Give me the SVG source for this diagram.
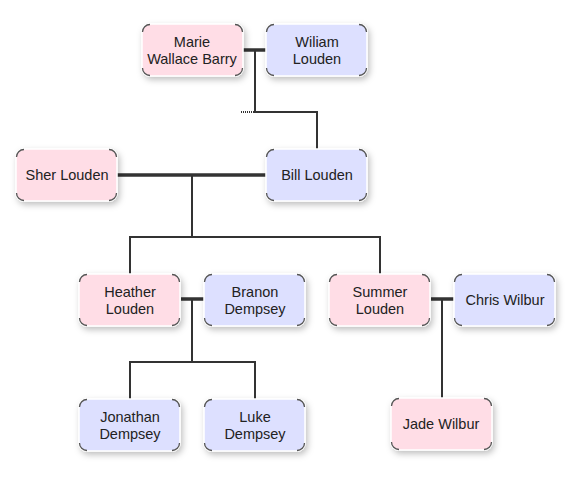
<svg xmlns="http://www.w3.org/2000/svg" width="572" height="496" viewBox="0 0 572 496">
<defs>
<filter id="sh" x="-20%" y="-20%" width="150%" height="160%">
<feDropShadow dx="2" dy="3" stdDeviation="3" flood-color="#000" flood-opacity="0.25"/>
</filter>
<path id="cm" d="M0.5,8 A7.5,7.5 0 0 1 8,0.5 M93,0.5 A7.5,7.5 0 0 1 100.5,8 M100.5,44 A7.5,7.5 0 0 1 93,51.5 M8,51.5 A7.5,7.5 0 0 1 0.5,44" fill="none" stroke="#555" stroke-width="1.3"/>
</defs>
<style>
.box{stroke:#fff;stroke-width:1.5;filter:url(#sh)}
.f{fill:#ffdde6}
.m{fill:#dde0ff}
.t{font-family:"Liberation Sans",Arial,sans-serif;font-size:14.5px;fill:#222;text-anchor:middle}
.c{fill:none;stroke:#333;stroke-width:2}
.c3{fill:none;stroke:#333;stroke-width:3.5}
</style>
<rect width="572" height="496" fill="#fff"/>
<g id="connectors">
<line class="c3" x1="242" y1="50" x2="266" y2="50"/>
<polyline class="c" points="255,50 255,112 317,112 317,150"/>
<line x1="241" y1="112" x2="255" y2="112" stroke="#333" stroke-width="2" stroke-dasharray="1 1"/>
<line class="c3" x1="117" y1="175" x2="266" y2="175"/>
<polyline class="c" points="192,175 192,237"/>
<polyline class="c" points="130,275 130,237 380,237 380,275"/>
<line class="c3" x1="181" y1="299" x2="204" y2="299"/>
<polyline class="c" points="192,299 192,362"/>
<polyline class="c" points="130,400 130,362 255,362 255,400"/>
<line class="c3" x1="431" y1="299" x2="454" y2="299"/>
<polyline class="c" points="442,299 442,398"/>
</g>
<g id="marie"><rect class="box f" x="142" y="24" width="101" height="52" rx="8"/><use href="#cm" x="142" y="24"/><text class="t" x="192" y="47">Marie</text><text class="t" x="192" y="64">Wallace Barry</text></g>
<g id="william"><rect class="box m" x="266" y="24" width="101" height="52" rx="8"/><use href="#cm" x="266" y="24"/><text class="t" x="317" y="47">Wiliam</text><text class="t" x="317" y="64">Louden</text></g>
<g id="sher"><rect class="box f" x="16" y="149" width="101" height="52" rx="8"/><use href="#cm" x="16" y="149"/><text class="t" x="67" y="180">Sher Louden</text></g>
<g id="bill"><rect class="box m" x="266" y="149" width="101" height="52" rx="8"/><use href="#cm" x="266" y="149"/><text class="t" x="317" y="180">Bill Louden</text></g>
<g id="heather"><rect class="box f" x="79" y="274" width="101" height="52" rx="8"/><use href="#cm" x="79" y="274"/><text class="t" x="130" y="297">Heather</text><text class="t" x="130" y="314">Louden</text></g>
<g id="branon"><rect class="box m" x="204" y="274" width="101" height="52" rx="8"/><use href="#cm" x="204" y="274"/><text class="t" x="255" y="297">Branon</text><text class="t" x="255" y="314">Dempsey</text></g>
<g id="summer"><rect class="box f" x="329" y="274" width="101" height="52" rx="8"/><use href="#cm" x="329" y="274"/><text class="t" x="380" y="297">Summer</text><text class="t" x="380" y="314">Louden</text></g>
<g id="chris"><rect class="box m" x="454" y="274" width="101" height="52" rx="8"/><use href="#cm" x="454" y="274"/><text class="t" x="505" y="305">Chris Wilbur</text></g>
<g id="jonathan"><rect class="box m" x="79" y="399" width="101" height="52" rx="8"/><use href="#cm" x="79" y="399"/><text class="t" x="130" y="422">Jonathan</text><text class="t" x="130" y="439">Dempsey</text></g>
<g id="luke"><rect class="box m" x="204" y="399" width="101" height="52" rx="8"/><use href="#cm" x="204" y="399"/><text class="t" x="255" y="422">Luke</text><text class="t" x="255" y="439">Dempsey</text></g>
<g id="jade"><rect class="box f" x="391" y="398" width="101" height="52" rx="8"/><use href="#cm" x="391" y="398"/><text class="t" x="441" y="429">Jade Wilbur</text></g>
</svg>
